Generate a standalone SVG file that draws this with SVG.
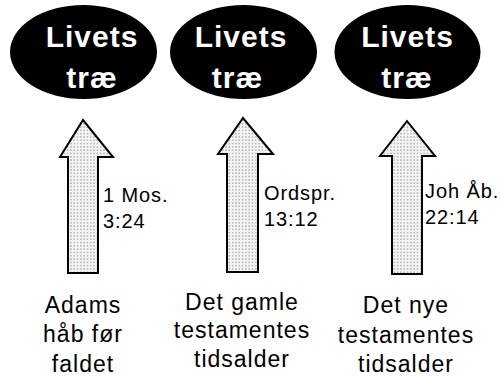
<svg xmlns="http://www.w3.org/2000/svg" width="501" height="376" viewBox="0 0 501 376">
<style>
.ell{fill:#000}
.et{font-family:"Liberation Sans",Arial,sans-serif;font-weight:bold;font-size:30px;fill:#fff;text-anchor:middle;letter-spacing:1px}
.arr{fill:url(#dots);stroke:#000;stroke-width:2;stroke-linejoin:miter}
.ref{font-family:"Liberation Sans",Arial,sans-serif;font-size:20px;fill:#000;letter-spacing:0.9px}
.lab{font-family:"Liberation Sans",Arial,sans-serif;font-size:23px;fill:#000;text-anchor:middle;letter-spacing:1px}
</style>
<defs>
<pattern id="dots" width="3.3" height="3.3" patternUnits="userSpaceOnUse">
<rect width="3.3" height="3.3" fill="#f4f4f4"/>
<rect x="1" y="1" width="1.4" height="1.4" fill="#a8a8a8"/>
</pattern>
</defs>
<g id="connectors">
<path class="arr" d="M83,120 L113,157 L98,157 L98,273 L68,273 L68,157 L60,157 Z"/>
<path class="arr" d="M243,118 L273,154 L258,154 L258,272 L227,272 L227,154 L218,154 Z"/>
<path class="arr" d="M407,121 L435,156 L422,156 L422,274 L392,274 L392,156 L380,156 Z"/>
</g>
<g id="tree1">
<ellipse class="ell" cx="83.5" cy="52" rx="73.5" ry="47"/>
<text class="et" x="92" y="47">Livets</text>
<text class="et" x="92" y="88">træ</text>
</g>
<g id="tree2">
<ellipse class="ell" cx="243.5" cy="52" rx="73.5" ry="47"/>
<text class="et" x="241" y="47">Livets</text>
<text class="et" x="237.5" y="88">træ</text>
</g>
<g id="tree3">
<ellipse class="ell" cx="407.5" cy="52" rx="73" ry="47"/>
<text class="et" x="407.5" y="47">Livets</text>
<text class="et" x="407" y="88">træ</text>
</g>
<g id="ref1">
<text class="ref" x="103" y="202">1 Mos.</text>
<text class="ref" x="103" y="228">3:24</text>
</g>
<g id="ref2">
<text class="ref" x="264" y="200">Ordspr.</text>
<text class="ref" x="264" y="226">13:12</text>
</g>
<g id="ref3">
<text class="ref" x="425" y="198">Joh Åb.</text>
<text class="ref" x="425" y="224">22:14</text>
</g>
<g id="label1">
<text class="lab" x="83" y="313">Adams</text>
<text class="lab" x="83" y="342">håb før</text>
<text class="lab" x="83" y="372">faldet</text>
</g>
<g id="label2">
<text class="lab" x="242" y="310">Det gamle</text>
<text class="lab" x="242" y="338">testamentes</text>
<text class="lab" x="242" y="367">tidsalder</text>
</g>
<g id="label3">
<text class="lab" x="406" y="313">Det nye</text>
<text class="lab" x="406" y="343">testamentes</text>
<text class="lab" x="406" y="372">tidsalder</text>
</g>
</svg>
